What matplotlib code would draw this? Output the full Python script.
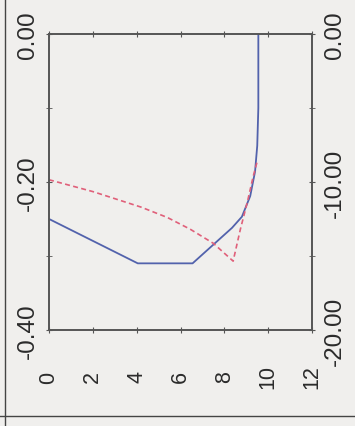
import matplotlib
matplotlib.use('Agg')
import matplotlib.pyplot as plt
from matplotlib.lines import Line2D

plt.rcParams['font.family'] = ['Liberation Sans', 'DejaVu Sans']
plt.rcParams['axes.unicode_minus'] = False

# values
blue_x = [0.0, 4.05, 6.55, 8.35, 8.8, 9.18, 9.4, 9.5, 9.55, 9.55]
blue_y = [-0.25, -0.31, -0.31, -0.262, -0.247, -0.219, -0.186, -0.151, -0.10, 0.0]

red_x = [0.0, 2.0, 4.2, 5.4, 6.45, 7.5, 8.4, 8.73, 9.05, 9.32, 9.5]
red_y = [-0.197, -0.213, -0.234, -0.248, -0.264, -0.283, -0.307, -0.264, -0.227, -0.192, -0.172]

x_ticks = [0, 2, 4, 6, 8, 10, 12]
left_ticks = [0.0, -0.2, -0.4]
right_ticks = [0.0, -10.0, -20.0]

bg = '#f0efed'
ink = '#2b2b2b'

fig = plt.figure(figsize=(3.55, 4.27), dpi=100, facecolor=bg)
ax = fig.add_axes([0.138, 0.225, 0.741, 0.693], facecolor=bg)

ax.plot(blue_x, blue_y, color='#5262ac', lw=1.3)
ax.plot(red_x, red_y, color='#e0607a', lw=1.2, ls=(0, (3, 2)))

ax.set_xlim(0, 12)
ax.set_ylim(-0.4, 0)
ax.set_xticks(x_ticks)
ax.set_xticklabels([str(t) for t in x_ticks], rotation=90, va='center',
                   fontsize=15.5, color=ink)
ax.set_yticks(left_ticks)
ax.set_yticks([-0.1, -0.3], minor=True)
ax.set_yticklabels(['%.2f' % t for t in left_ticks], rotation=90, va='center',
                   fontsize=17.5, color=ink)
ax.tick_params(axis='x', direction='inout', length=5, pad=31, top=True, colors='#555555',
               labelcolor=ink)
ax.tick_params(axis='y', which='both', direction='inout', length=5, pad=5,
               colors='#555555', labelcolor=ink)

ax2 = ax.twinx()
ax2.set_ylim(-20, 0)
ax2.set_yticks(right_ticks)
ax2.set_yticks([-5, -15], minor=True)
ax2.set_yticklabels(['%.2f' % t for t in right_ticks], rotation=90, va='center',
                    fontsize=17.5, color=ink)
ax2.tick_params(axis='y', which='both', direction='inout', length=5, pad=6,
                colors='#555555', labelcolor=ink)

for a in (ax, ax2):
    for s in a.spines.values():
        s.set_color('#555555')
        s.set_linewidth(1.2)

# page frame lines of the scan
fig.add_artist(Line2D([5 / 355, 5 / 355], [0, 1], color='#444444', lw=1.0))
fig.add_artist(Line2D([0, 1], [1 - 417 / 427, 1 - 417 / 427], color='#444444', lw=1.0))

fig.savefig('out.png', dpi=100, facecolor=bg)
